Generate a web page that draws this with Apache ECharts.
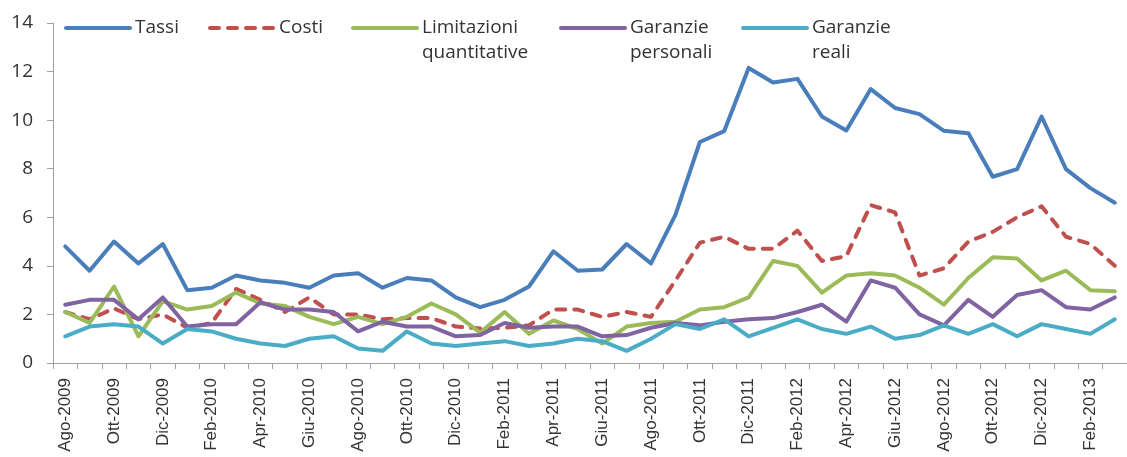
<!DOCTYPE html>
<html>
<head>
<meta charset="utf-8">
<script src="https://cdn.jsdelivr.net/npm/echarts@6/dist/echarts.min.js"></script>
<style>html,body{margin:0;padding:0;background:#fff}#c{width:1127px;height:457px}</style>
</head>
<body>
<div id="c"></div>
<script>
const categories = ['Ago-2009','Set-2009','Ott-2009','Nov-2009','Dic-2009',
  'Gen-2010','Feb-2010','Mar-2010','Apr-2010','Mag-2010','Giu-2010','Lug-2010','Ago-2010','Set-2010','Ott-2010','Nov-2010','Dic-2010',
  'Gen-2011','Feb-2011','Mar-2011','Apr-2011','Mag-2011','Giu-2011','Lug-2011','Ago-2011','Set-2011','Ott-2011','Nov-2011','Dic-2011',
  'Gen-2012','Feb-2012','Mar-2012','Apr-2012','Mag-2012','Giu-2012','Lug-2012','Ago-2012','Set-2012','Ott-2012','Nov-2012','Dic-2012',
  'Gen-2013','Feb-2013','Mar-2013'];

const tassi = [4.8,3.8,5.0,4.1,4.9,
  3.0,3.1,3.6,3.4,3.3,3.1,3.6,3.7,3.1,3.5,3.4,2.7,
  2.3,2.6,3.15,4.6,3.8,3.85,4.9,4.1,6.1,9.1,9.55,12.15,
  11.55,11.7,10.15,9.57,11.28,10.5,10.25,9.56,9.46,7.67,7.98,10.15,
  7.98,7.2,6.6];

const costi = [2.1,1.8,2.25,1.8,2.0,
  1.45,1.65,3.05,2.6,2.1,2.7,2.0,2.0,1.8,1.85,1.85,1.5,
  1.42,1.45,1.55,2.2,2.2,1.9,2.1,1.9,3.4,4.95,5.2,4.7,
  4.7,5.45,4.2,4.4,6.5,6.2,3.6,3.9,5.0,5.4,6.0,6.45,
  5.2,4.9,4.0];

const limitazioni = [2.1,1.65,3.15,1.1,2.55,
  2.2,2.35,2.9,2.45,2.35,1.9,1.6,1.9,1.6,1.9,2.45,2.0,
  1.25,2.1,1.2,1.75,1.4,0.8,1.5,1.65,1.7,2.2,2.3,2.7,
  4.2,4.0,2.9,3.6,3.7,3.6,3.1,2.4,3.5,4.35,4.3,3.4,
  3.8,3.0,2.95];

const garanziePersonali = [2.4,2.6,2.6,1.8,2.7,
  1.5,1.6,1.6,2.5,2.2,2.2,2.1,1.3,1.7,1.5,1.5,1.1,
  1.15,1.65,1.45,1.5,1.5,1.1,1.15,1.45,1.65,1.55,1.7,1.8,
  1.85,2.1,2.4,1.7,3.4,3.1,2.0,1.55,2.6,1.9,2.8,3.0,
  2.3,2.2,2.7];

const garanzieReali = [1.1,1.5,1.6,1.5,0.8,
  1.4,1.3,1.0,0.8,0.7,1.0,1.1,0.6,0.5,1.3,0.8,0.7,
  0.8,0.9,0.7,0.8,1.0,0.9,0.5,1.0,1.6,1.4,1.8,1.1,
  1.45,1.8,1.4,1.2,1.5,1.0,1.15,1.55,1.2,1.6,1.1,1.6,
  1.4,1.2,1.8];

const yTicks = [0,2,4,6,8,10,12,14];

const seriesDefs = [
  {name:'Tassi', data:tassi, color:'#4A7EBB', dash:'solid', left:64, two:false},
  {name:'Costi', data:costi, color:'#C0504D', dash:[9,9], left:208, two:false},
  {name:'Limitazioni\nquantitative', data:limitazioni, color:'#9BBB59', dash:'solid', left:351, two:true},
  {name:'Garanzie\npersonali', data:garanziePersonali, color:'#8064A2', dash:'solid', left:559, two:true},
  {name:'Garanzie\nreali', data:garanzieReali, color:'#4BACC6', dash:'solid', left:741, two:true}
];

const LH = 25;
const legends = seriesDefs.map(s => ({
  left: s.left,
  top: s.two ? (28 - LH*1.5) : (28 - LH/2),
  padding: 0,
  itemWidth: 64,
  itemHeight: 14,
  selectedMode: false,
  lineStyle: {width: 4, cap: 'round'},
  itemStyle: {opacity: 0},
  formatter: s.two ? (n => '\n' + n) : (n => n),
  data: [s.name],
  textStyle: {fontFamily: 'Open Sans', fontSize: 19, color: '#333', lineHeight: LH}
}));

const chart = echarts.init(document.getElementById('c'), null, {renderer:'canvas'});
chart.setOption({
  animation: false,
  backgroundColor: '#fff',
  legend: legends,
  grid: {left: 53, top: 23, width: 1083, height: 340, containLabel: false},
  xAxis: {
    type: 'category',
    data: categories,
    boundaryGap: true,
    axisLine: {lineStyle: {color: '#A0A0A0', width: 1}},
    axisTick: {show: true, interval: 0, length: 6, lineStyle: {color: '#A0A0A0'}},
    axisLabel: {interval: 1, rotate: 90, margin: 15, fontFamily: 'Liberation Sans', fontSize: 17, color: '#333'},
    splitLine: {show: false}
  },
  yAxis: {
    type: 'value',
    min: yTicks[0], max: yTicks[yTicks.length-1], interval: 2,
    axisLine: {show: true, lineStyle: {color: '#A0A0A0', width: 1}},
    axisTick: {show: true, length: 6, lineStyle: {color: '#A0A0A0'}},
    axisLabel: {margin: 20, fontFamily: 'Open Sans', fontSize: 19, color: '#333'},
    splitLine: {show: false}
  },
  series: seriesDefs.map(s => ({
    name: s.name,
    type: 'line',
    data: s.data,
    symbol: 'none',
    smooth: false,
    color: s.color,
    lineStyle: {color: s.color, width: 4, type: s.dash, cap: 'round', join: 'round'}
  }))
});
</script>
</body>
</html>
